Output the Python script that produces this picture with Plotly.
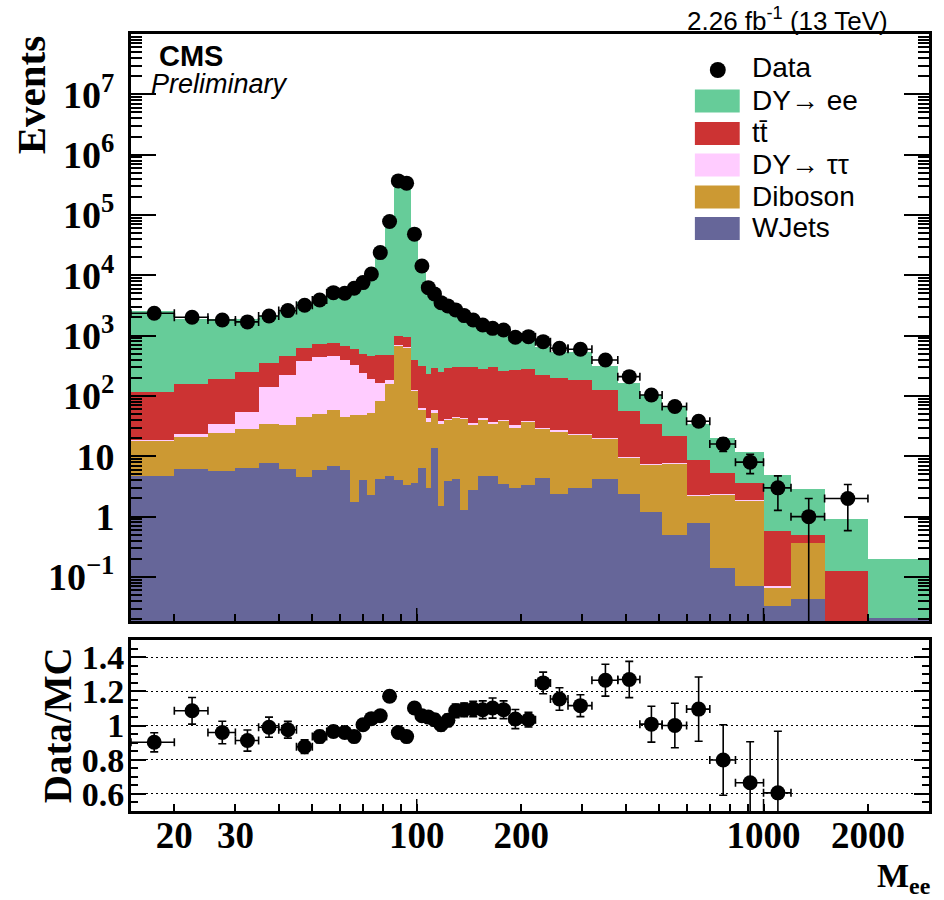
import numpy as np
import plotly.graph_objects as go

# ---- dielectron invariant-mass binning (GeV) ----
mass_edges = [15, 20, 25, 30, 35, 40, 45, 50, 55, 60, 64, 68, 72, 76, 81, 86, 91, 96,
              101, 106, 110, 115, 120, 126, 133, 141, 150, 160, 171, 185, 200, 220, 243,
              273, 320, 380, 440, 510, 600, 700, 830, 1000, 1200, 1500, 2000, 3000]

# ---- observed events per bin (None = empty bin) ----
data_events = [2350, 2020, 1820, 1690, 2120, 2600, 3190, 3900, 5160, 5050, 6100, 7570,
               10540, 23800, 77800, 367000, 337000, 48100, 14300, 6250, 4920, 3520, 3110,
               2670, 2150, 1820, 1500, 1320, 1240, 940, 963, 795, 617, 594, 395, 209, 104,
               67, 38, 16, 8, 3, 1, 2, None]

# ---- simulated contributions per bin (stacked bottom to top) ----
wjets = [4.7, 6.25, 5.6, 6.4, 7.6, 6.25, 4.6, 5.9, 7.0, 6.0, 1.73, 4.1, 2.3, 4.2, 4.75,
         4.1, 3.4, 3.6, 6.4, 2.96, 13.8, 1.5, 3.9, 4.2, 1.27, 2.8, 4.75, 4.7, 3.5, 3.0,
         3.4, 4.4, 2.4, 3.0, 4.2, 2.4, 1.19, 0.5, 0.79, 0.14, 0.07, 0.033, 0.043, 0.0, 0.021]
diboson = [13.5, 14.5, 18.8, 22.0, 27.2, 27.3, 39.7, 45.0, 52.3, 38.3, 47.3, 44.9, 49.7,
           76.8, 151, 670, 630, 118, 54.4, 34.5, 37.8, 33.1, 36.3, 39.3, 40.3, 31.2, 36.3,
           30.8, 35.3, 27.0, 34.2, 24.6, 23.6, 19.7, 15.2, 7.2, 6.1, 7.0, 1.44, 2.18, 1.8,
           0.033, 0.323, 0.0, 0.0]
dy_tautau = [0.7, 3.1, 10.4, 26.6, 104, 192, 332, 392, 395, 356, 281, 191, 139, 84, 28,
             26, 17, 5.0, 2.2, 5.2, 7.0, 3.4, 1.8, 1.5, 1.9, 1.0, 2.0, 1.5, 1.2, 2.5, 0.9,
             0.8, 0.8, 0.8, 0.9, 0.3, 0.2, 0.2, 0.07, 0.03, 0.03, 0.004, 0.004, 0.0, 0.0]
ttbar = [97, 136, 156, 192, 213, 240, 249, 294, 301, 265, 271, 263, 263, 315, 298, 290,
         290, 268, 251, 189, 229, 215, 253, 261, 262.5, 264, 238, 262, 220, 237.5, 236.5,
         196, 173, 163.5, 103.7, 47.1, 26.9, 14.3, 6.5, 2.85, 1.7, 0.50, 0.13, 0.124, 0.0]
dy_ee = [2490, 1700, 1707, 1606, 1789, 2200, 3016, 3434, 4592, 4601, 5923, 7037, 9681,
         22037, 65957, 381700, 359490, 43253, 13215, 5726, 4470, 3253, 2724, 2153, 1663,
         1362, 1093, 899, 876, 636, 656, 411, 334, 345, 188, 108, 68.6, 44.6, 25.4, 14.8,
         8.4, 4.38, 2.38, 0.79, 0.178]

# ---- data / simulation ratio and its uncertainty (None = outside the panel) ----
ratio = [0.902, 1.086, 0.959, 0.912, 0.99, 0.975, 0.876, 0.935, 0.965, 0.959, 0.935, 1.004,
         1.04, 1.057, 1.171, 0.959, 0.935, 1.102, 1.057, 1.049, 1.034, 1.004, 1.03, 1.086,
         1.092, 1.096, 1.092, 1.102, 1.092, 1.038, 1.034, 1.249, 1.155, 1.116, 1.265, 1.269,
         1.008, 1.0, 1.096, 0.798, 0.665, 0.606, None, None, None]
ratio_err = [0.056, 0.078, 0.066, 0.062, 0.059, 0.049, 0.04, 0.035, 0.03, 0.03, 0.03, 0.03,
             0.025, 0.02, 0.01, 0.005, 0.005, 0.01, 0.02, 0.03, 0.035, 0.035, 0.035, 0.04,
             0.04, 0.045, 0.052, 0.059, 0.052, 0.056, 0.043, 0.063, 0.066, 0.064, 0.093,
             0.106, 0.105, 0.13, 0.188, 0.206, 0.24, 0.36, None, None, None]

# ---- axis tick definitions ----
events_ticks = [0.1, 1, 10, 100, 1e3, 1e4, 1e5, 1e6, 1e7]
events_labels = ["10<sup>\u22121</sup>", "1", "10", "10<sup>2</sup>", "10<sup>3</sup>",
                 "10<sup>4</sup>", "10<sup>5</sup>", "10<sup>6</sup>", "10<sup>7</sup>"]
mass_ticks = [20, 30, 100, 200, 1000, 2000]
mass_labels = ["20", "30", "100", "200", "1000", "2000"]
ratio_ticks = [0.6, 0.8, 1.0, 1.2, 1.4]
ratio_labels = ["0.6", "0.8", "1", "1.2", "1.4"]

processes = [
    ("WJets", wjets, "#666699"),
    ("Diboson", diboson, "#cc9933"),
    ("DY\u2192 \u03c4\u03c4", dy_tautau, "#ffccff"),
    ("tt\u0304", ttbar, "#cc3333"),
    ("DY\u2192 ee", dy_ee, "#66cc99"),
]

edges = np.array(mass_edges, dtype=float)
centers = 0.5 * (edges[:-1] + edges[1:])
widths = edges[1:] - edges[:-1]
half = 0.5 * widths

data_arr = np.array([np.nan if v is None else v for v in data_events], dtype=float)
data_err = np.sqrt(data_arr)
ratio_arr = np.array([np.nan if v is None else v for v in ratio], dtype=float)
ratio_err_arr = np.array([np.nan if v is None else v for v in ratio_err], dtype=float)

fig = go.Figure()

for name, vals, col in processes:
    fig.add_trace(go.Bar(
        x=centers, y=vals, width=widths, name=name,
        marker=dict(color=col, line=dict(width=0)),
        xaxis="x", yaxis="y", showlegend=False, hoverinfo="skip",
    ))

fig.add_trace(go.Scatter(
    x=centers, y=data_arr, mode="markers", name="Data",
    marker=dict(size=15, color="black"),
    error_y=dict(type="data", array=data_err, color="black", thickness=1.6, width=4),
    error_x=dict(type="data", array=half, color="black", thickness=1.6, width=4),
    xaxis="x", yaxis="y", showlegend=False,
))

fig.add_trace(go.Scatter(
    x=centers, y=ratio_arr, mode="markers", name="Data/MC",
    marker=dict(size=15, color="black"),
    error_y=dict(type="data", array=ratio_err_arr, color="black", thickness=1.6, width=4),
    error_x=dict(type="data", array=half, color="black", thickness=1.6, width=4),
    xaxis="x2", yaxis="y2", showlegend=False,
))

# ---- geometry in pixels ----
W, H = 944, 900
L, R, T, B = 131, 12, 34, 89
PW, PH = W - L - R, H - T - B
main_bottom_px, ratio_top_px = 621, 640


def xp(px):
    return (px - L) / PW


def yp(py):
    return (H - B - py) / PH


x_range = [np.log10(15), np.log10(3000)]
minor_mass = [40, 50, 60, 70, 80, 90, 300, 400, 500, 600, 700, 800, 900, 3000]
minor_events = [k * 10.0 ** n for n in range(-2, 8) for k in range(2, 10)]
minor_ratio = [0.5, 0.55, 0.65, 0.7, 0.75, 0.85, 0.9, 0.95, 1.05, 1.1, 1.15, 1.25, 1.3, 1.35, 1.45, 1.5]

serif = "Liberation Serif"
sans = "Liberation Sans"

axis_common = dict(showline=True, linewidth=3, linecolor="black", ticks="inside",
                   tickcolor="black", tickwidth=1.5, zeroline=False)

fig.update_layout(
    width=W, height=H,
    margin=dict(l=L, r=R, t=T, b=B, pad=0),
    plot_bgcolor="white", paper_bgcolor="white",
    barmode="stack", bargap=0,
    showlegend=False,
    xaxis=dict(type="log", range=x_range, domain=[0, 1], anchor="y",
               mirror=True, showgrid=False, showticklabels=False,
               tickmode="array", tickvals=mass_ticks, ticklen=7,
               minor=dict(tickmode="array", tickvals=minor_mass, ticks="inside",
                          ticklen=7, tickcolor="black", tickwidth=1.5),
               **axis_common),
    yaxis=dict(type="log", range=[-1.73, 8.0], domain=[yp(main_bottom_px), 1], anchor="x",
               mirror="allticks", showgrid=False,
               tickmode="array", tickvals=events_ticks, ticktext=events_labels, ticklen=25,
               tickfont=dict(family=serif, size=38, color="black", weight="bold"),
               ticklabelstandoff=6,
               minor=dict(tickmode="array", tickvals=minor_events, ticks="inside",
                          ticklen=11, tickcolor="black", tickwidth=1.5),
               **axis_common),
    xaxis2=dict(type="log", range=x_range, domain=[0, 1], anchor="y2",
                mirror=True, showgrid=False,
                tickmode="array", tickvals=mass_ticks, ticktext=mass_labels, ticklen=7,
                tickfont=dict(family=serif, size=37, color="black", weight="bold"),
                ticklabelstandoff=-10,
                minor=dict(tickmode="array", tickvals=minor_mass, ticks="inside",
                           ticklen=7, tickcolor="black", tickwidth=1.5),
                **axis_common),
    yaxis2=dict(range=[0.5, 1.5], domain=[0, yp(ratio_top_px)], anchor="x2",
                mirror="allticks", showgrid=True, gridcolor="black", gridwidth=1,
                griddash="2px,3px",
                tickmode="array", tickvals=ratio_ticks, ticktext=ratio_labels, ticklen=15,
                tickfont=dict(family=serif, size=34, color="black", weight="bold"),
                ticklabelstandoff=-3,
                minor=dict(tickmode="array", tickvals=minor_ratio, ticks="inside",
                           ticklen=7, tickcolor="black", tickwidth=1.5, showgrid=False),
                **axis_common),
)

shapes = []
# longer decade ticks on both mass axes
for xref, yref in (("x", "y domain"), ("x2", "y2 domain")):
    frac = 13 / (PH * (1 - yp(main_bottom_px))) if xref == "x" else 12 / (PH * yp(ratio_top_px))
    for dec in (100, 1000):
        shapes.append(dict(type="line", xref=xref, yref=yref, x0=dec, x1=dec, y0=0, y1=frac,
                           line=dict(color="black", width=1.5)))

# legend: data marker and process swatches
shapes.append(dict(type="circle", xref="paper", yref="paper",
                   x0=xp(712), x1=xp(728), y0=yp(78), y1=yp(62),
                   fillcolor="black", line=dict(color="black", width=0)))
legend_rows = [("DY\u2192 ee", "#66cc99", 101), ("tt\u0304", "#cc3333", 133.5),
               ("DY\u2192 \u03c4\u03c4", "#ffccff", 165), ("Diboson", "#cc9933", 197),
               ("WJets", "#666699", 228.5)]
for label, col, cy in legend_rows:
    shapes.append(dict(type="rect", xref="paper", yref="paper",
                       x0=xp(697), x1=xp(742), y0=yp(cy + 11.5), y1=yp(cy - 11.5),
                       fillcolor=col, line=dict(width=0), layer="above"))

annotations = []
for label, cy in [("Data", 67)] + [(lab, cy - 1) for lab, _, cy in legend_rows]:
    annotations.append(dict(text=label, xref="paper", yref="paper", x=xp(752), y=yp(cy),
                            xanchor="left", yanchor="middle", showarrow=False,
                            font=dict(family=sans, size=28, color="black")))

annotations += [
    dict(text="CMS", xref="paper", yref="paper", x=xp(157), y=yp(56),
         xanchor="left", yanchor="middle", showarrow=False,
         font=dict(family=sans, size=29, color="black", weight="bold")),
    dict(text="<i>Preliminary</i>", xref="paper", yref="paper", x=xp(149), y=yp(84),
         xanchor="left", yanchor="middle", showarrow=False,
         font=dict(family=sans, size=27, color="black")),
    dict(text="2.26 fb<sup>-1</sup> (13 TeV)", xref="paper", yref="paper", x=xp(893), y=yp(19),
         xanchor="right", yanchor="middle", showarrow=False,
         font=dict(family=sans, size=26, color="black")),
    dict(text="<b>Events</b>", xref="paper", yref="paper", x=xp(31), y=yp(34),
         xanchor="center", yanchor="top", textangle=-90, showarrow=False,
         font=dict(family=serif, size=41, color="black")),
    dict(text="<b>Data/MC</b>", xref="paper", yref="paper", x=xp(57), y=yp(645),
         xanchor="center", yanchor="top", textangle=-90, showarrow=False,
         font=dict(family=serif, size=39, color="black")),
    dict(text="<b>M<sub>ee</sub></b>", xref="paper", yref="paper", x=xp(934), y=yp(900),
         xanchor="right", yanchor="bottom", showarrow=False, borderpad=0,
         font=dict(family=serif, size=34, color="black")),
]

fig.update_layout(shapes=shapes, annotations=annotations)
fig.write_html("out.html")
